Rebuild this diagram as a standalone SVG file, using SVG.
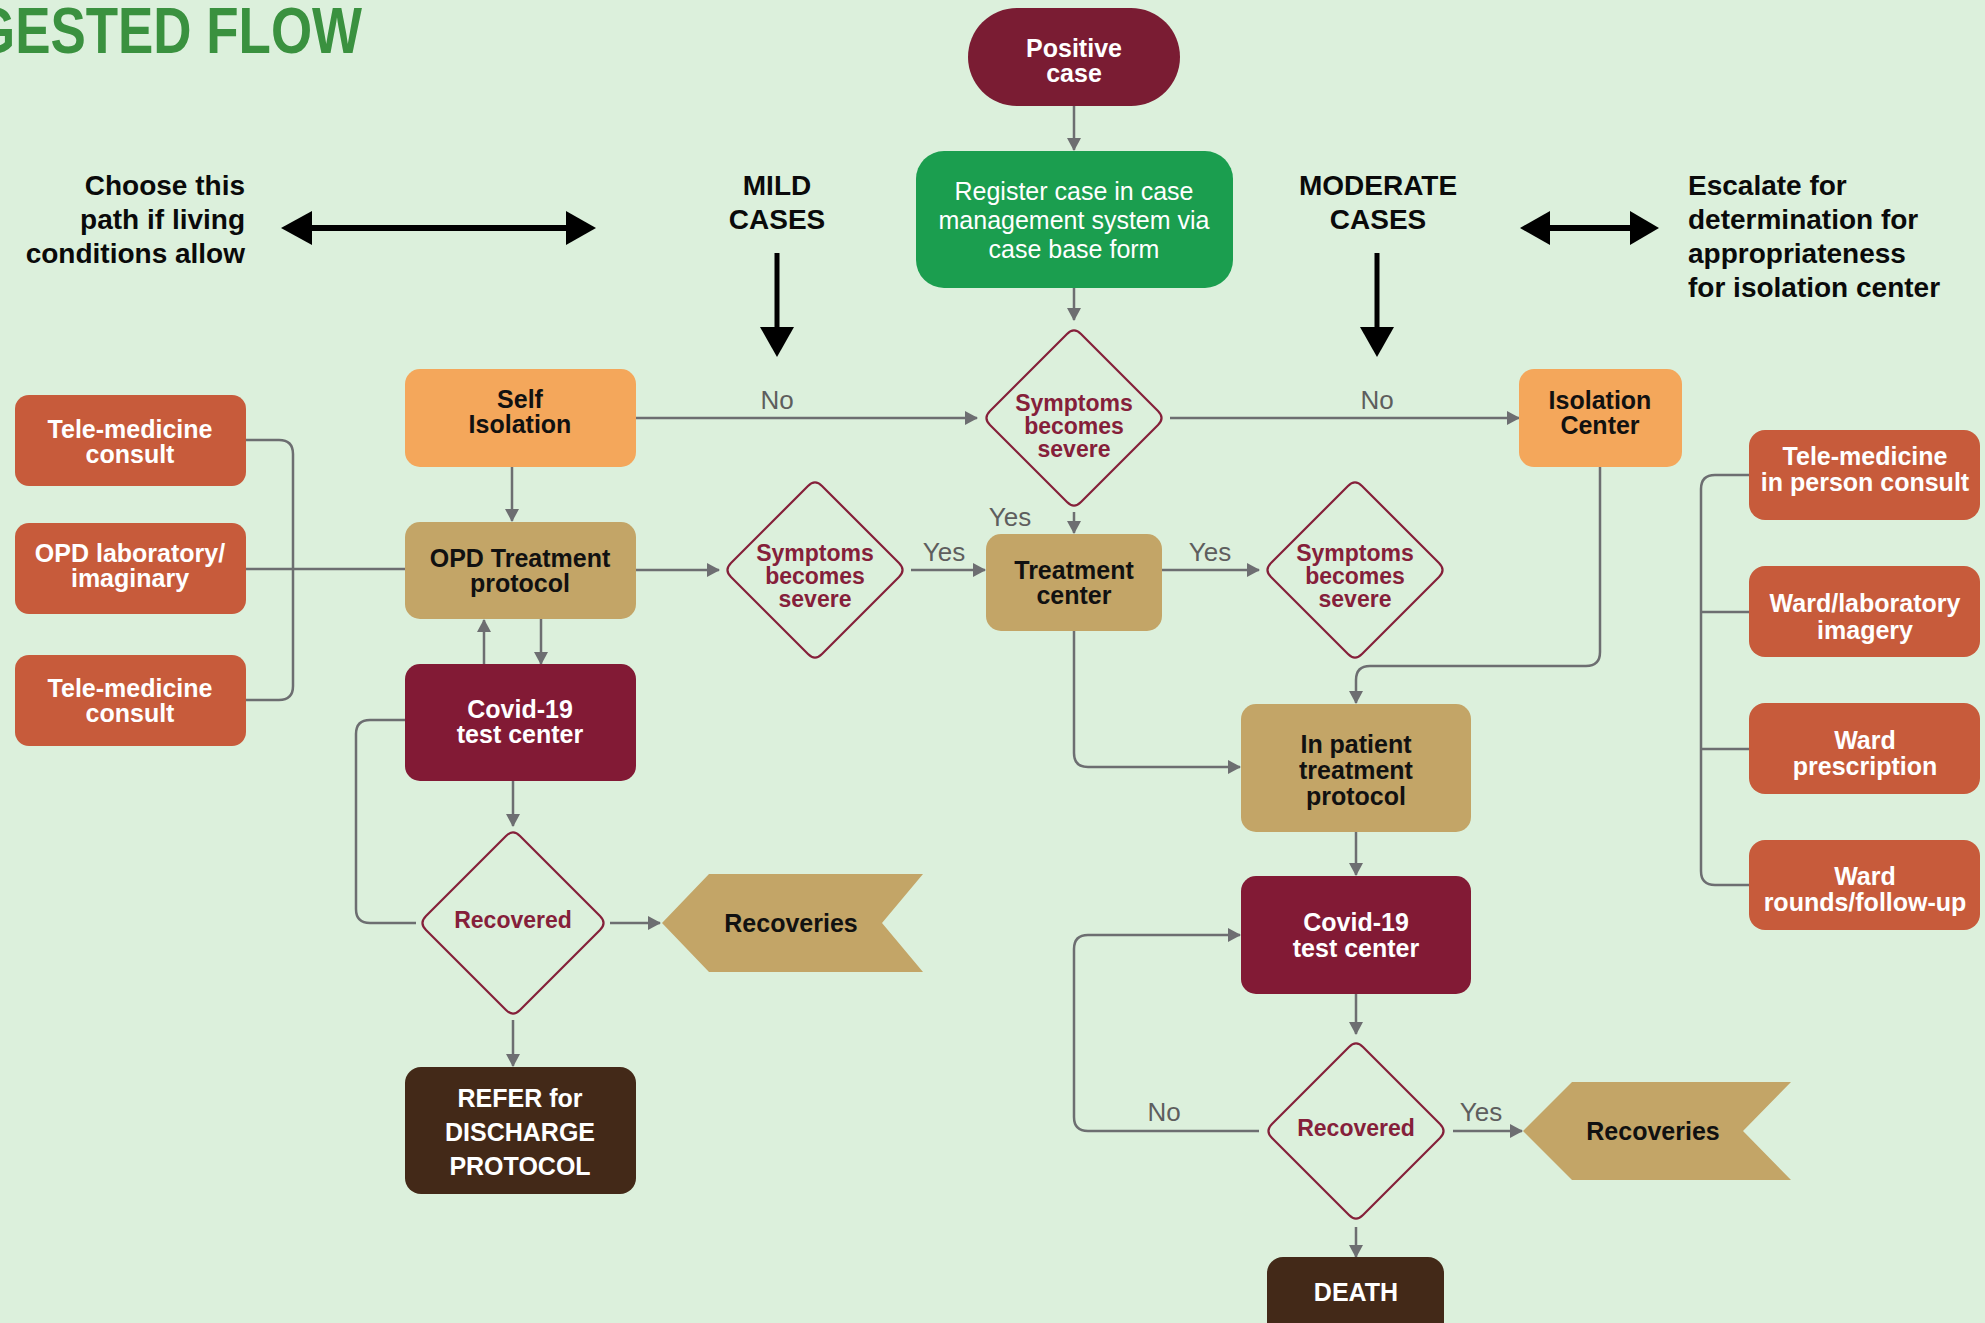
<svg xmlns="http://www.w3.org/2000/svg" width="1985" height="1323" viewBox="0 0 1985 1323">
<defs>
<style>
text{font-family:"Liberation Sans",Arial,sans-serif;}
.b{font-weight:bold;font-size:25px;text-anchor:middle;}
.w{fill:#ffffff;}
.k{fill:#111111;}
.m{fill:#85203a;font-weight:bold;font-size:23px;text-anchor:middle;}
.h{font-weight:bold;font-size:28px;fill:#0a0a0a;}
.lbl{font-size:26px;fill:#5e5e5e;text-anchor:middle;}
.c{fill:none;stroke:#6d6e71;stroke-width:2.5;}
.ca{fill:none;stroke:#6d6e71;stroke-width:2.5;marker-end:url(#ah);}
.dia{fill:none;stroke:#85203a;stroke-width:2.2;}
.or{fill:#c75b3b;}
.lo{fill:#f4a75b;}
.tan{fill:#c3a567;}
.mar{fill:#821a35;}
.br{fill:#432918;}
</style>
<marker id="ah" markerUnits="userSpaceOnUse" markerWidth="13" markerHeight="14" refX="12" refY="7" orient="auto">
<path d="M0,0 L13,7 L0,14 Z" fill="#6d6e71"/>
</marker>
<path id="dm" d="M7,-84 L84,-7 Q91,0 84,7 L7,84 Q0,91 -7,84 L-84,7 Q-91,0 -84,-7 L-7,-84 Q0,-91 7,-84 Z"/>
<path id="dmL" d="M7,-87 L87,-7 Q94,0 87,7 L7,87 Q0,94 -7,87 L-87,7 Q-94,0 -87,-7 L-7,-87 Q0,-94 7,-87 Z"/>
</defs>
<rect width="1985" height="1323" fill="#dcf0dc"/>

<text x="-26" y="53" font-size="64" font-weight="bold" fill="#3a913f" textLength="388" lengthAdjust="spacingAndGlyphs">GESTED FLOW</text>

<g id="side-labels">
<text class="h" text-anchor="end" x="245" y="195">Choose this</text>
<text class="h" text-anchor="end" x="245" y="229">path if living</text>
<text class="h" text-anchor="end" x="245" y="263">conditions allow</text>
<text class="h" text-anchor="middle" x="777" y="195">MILD</text>
<text class="h" text-anchor="middle" x="777" y="229">CASES</text>
<text class="h" text-anchor="middle" x="1378" y="195">MODERATE</text>
<text class="h" text-anchor="middle" x="1378" y="229">CASES</text>
<text class="h" x="1688" y="195">Escalate for</text>
<text class="h" x="1688" y="229">determination for</text>
<text class="h" x="1688" y="263">appropriateness</text>
<text class="h" x="1688" y="297">for isolation center</text>
</g>

<g id="black-arrows" fill="#000">
<line x1="310" y1="228" x2="568" y2="228" stroke="#000" stroke-width="6"/>
<path d="M281,228 L312,211 L312,245 Z"/>
<path d="M596,228 L566,211 L566,245 Z"/>
<line x1="1548" y1="228" x2="1632" y2="228" stroke="#000" stroke-width="6"/>
<path d="M1520,228 L1550,211 L1550,245 Z"/>
<path d="M1659,228 L1630,211 L1630,245 Z"/>
<line x1="777" y1="253" x2="777" y2="330" stroke="#000" stroke-width="5"/>
<path d="M760,327 L794,327 L777,357 Z"/>
<line x1="1377" y1="253" x2="1377" y2="330" stroke="#000" stroke-width="5"/>
<path d="M1360,327 L1394,327 L1377,357 Z"/>
</g>

<g id="connectors">
<path class="ca" d="M1074,106 L1074,150"/>
<path class="ca" d="M1074,288 L1074,320"/>
<path class="ca" d="M636,418 L977,418"/>
<path class="ca" d="M1170,418 L1519,418"/>
<path class="ca" d="M1074,512 L1074,533"/>
<path class="ca" d="M512,467 L512,521"/>
<path class="ca" d="M636,570 L719,570"/>
<path class="ca" d="M911,570 L985,570"/>
<path class="ca" d="M1162,570 L1259,570"/>
<path class="ca" d="M484,664 L484,620"/>
<path class="ca" d="M541,619 L541,664"/>
<path class="ca" d="M513,781 L513,826"/>
<path class="ca" d="M610,923 L660,923"/>
<path class="ca" d="M513,1020 L513,1066"/>
<path class="c" d="M416,923 L370,923 Q356,923 356,909 L356,734 Q356,720 370,720 L405,720"/>
<path class="c" d="M246,440 L279,440 Q293,440 293,454 L293,686 Q293,700 279,700 L246,700"/>
<path class="c" d="M246,569 L405,569"/>
<path class="ca" d="M1600,467 L1600,652 Q1600,666 1586,666 L1370,666 Q1356,666 1356,680 L1356,703"/>
<path class="ca" d="M1074,631 L1074,753 Q1074,767 1088,767 L1240,767"/>
<path class="ca" d="M1356,832 L1356,875"/>
<path class="ca" d="M1356,994 L1356,1034"/>
<path class="ca" d="M1259,1131 L1088,1131 Q1074,1131 1074,1117 L1074,949 Q1074,935 1088,935 L1240,935"/>
<path class="ca" d="M1453,1131 L1522,1131"/>
<path class="ca" d="M1356,1227 L1356,1257"/>
<path class="c" d="M1749,475 L1715,475 Q1701,475 1701,489 L1701,871 Q1701,885 1715,885 L1749,885 M1701,612 L1749,612 M1701,749 L1749,749"/>
<text class="lbl" x="777" y="409">No</text>
<text class="lbl" x="1377" y="409">No</text>
<text class="lbl" x="1010" y="526">Yes</text>
<text class="lbl" x="944" y="561">Yes</text>
<text class="lbl" x="1210" y="561">Yes</text>
<text class="lbl" x="1164" y="1121">No</text>
<text class="lbl" x="1481" y="1121">Yes</text>
</g>

<g id="positive-case">
<rect x="968" y="8" width="212" height="98" rx="49" fill="#7a1c33"/>
<text class="b w" x="1074" y="57">Positive</text>
<text class="b w" x="1074" y="82">case</text>
</g>

<g id="register">
<rect x="916" y="151" width="317" height="137" rx="28" fill="#1b9e4f"/>
<text class="w" font-size="25" text-anchor="middle" x="1074" y="200">Register case in case</text>
<text class="w" font-size="25" text-anchor="middle" x="1074" y="229">management system via</text>
<text class="w" font-size="25" text-anchor="middle" x="1074" y="258">case base form</text>
</g>

<g id="symptoms-center">
<use href="#dm" class="dia" transform="translate(1074,418)"/>
<text class="m" x="1074" y="411">Symptoms</text>
<text class="m" x="1074" y="434">becomes</text>
<text class="m" x="1074" y="457">severe</text>
</g>

<g id="symptoms-mild">
<use href="#dm" class="dia" transform="translate(815,570)"/>
<text class="m" x="815" y="561">Symptoms</text>
<text class="m" x="815" y="584">becomes</text>
<text class="m" x="815" y="607">severe</text>
</g>

<g id="symptoms-moderate">
<use href="#dm" class="dia" transform="translate(1355,570)"/>
<text class="m" x="1355" y="561">Symptoms</text>
<text class="m" x="1355" y="584">becomes</text>
<text class="m" x="1355" y="607">severe</text>
</g>

<g id="tele-medicine-1">
<rect class="or" x="15" y="395" width="231" height="91" rx="14"/>
<text class="b w" x="130" y="438">Tele-medicine</text>
<text class="b w" x="130" y="463">consult</text>
</g>
<g id="opd-laboratory">
<rect class="or" x="15" y="523" width="231" height="91" rx="14"/>
<text class="b w" x="130" y="562">OPD laboratory/</text>
<text class="b w" x="130" y="587">imaginary</text>
</g>
<g id="tele-medicine-2">
<rect class="or" x="15" y="655" width="231" height="91" rx="14"/>
<text class="b w" x="130" y="697">Tele-medicine</text>
<text class="b w" x="130" y="722">consult</text>
</g>

<g id="self-isolation">
<rect class="lo" x="405" y="369" width="231" height="98" rx="15"/>
<text class="b k" x="520" y="408">Self</text>
<text class="b k" x="520" y="433">Isolation</text>
</g>
<g id="opd-treatment">
<rect class="tan" x="405" y="522" width="231" height="97" rx="15"/>
<text class="b k" x="520" y="567">OPD Treatment</text>
<text class="b k" x="520" y="592">protocol</text>
</g>
<g id="covid-test-1">
<rect class="mar" x="405" y="664" width="231" height="117" rx="15"/>
<text class="b w" x="520" y="718">Covid-19</text>
<text class="b w" x="520" y="743">test center</text>
</g>
<g id="recovered-1">
<use href="#dmL" class="dia" transform="translate(513,923)"/>
<text class="m" x="513" y="928">Recovered</text>
</g>
<g id="recoveries-1">
<path class="tan" d="M662,923 L709,874 L923,874 L882,923 L923,972 L709,972 Z"/>
<text class="b k" x="791" y="932">Recoveries</text>
</g>
<g id="refer-discharge">
<rect class="br" x="405" y="1067" width="231" height="127" rx="16"/>
<text class="b w" x="520" y="1107">REFER for</text>
<text class="b w" x="520" y="1141">DISCHARGE</text>
<text class="b w" x="520" y="1175">PROTOCOL</text>
</g>

<g id="treatment-center">
<rect class="tan" x="986" y="534" width="176" height="97" rx="15"/>
<text class="b k" x="1074" y="579">Treatment</text>
<text class="b k" x="1074" y="604">center</text>
</g>
<g id="isolation-center">
<rect class="lo" x="1519" y="369" width="163" height="98" rx="15"/>
<text class="b k" x="1600" y="409">Isolation</text>
<text class="b k" x="1600" y="434">Center</text>
</g>
<g id="in-patient">
<rect class="tan" x="1241" y="704" width="230" height="128" rx="15"/>
<text class="b k" x="1356" y="753">In patient</text>
<text class="b k" x="1356" y="779">treatment</text>
<text class="b k" x="1356" y="805">protocol</text>
</g>
<g id="covid-test-2">
<rect class="mar" x="1241" y="876" width="230" height="118" rx="15"/>
<text class="b w" x="1356" y="931">Covid-19</text>
<text class="b w" x="1356" y="957">test center</text>
</g>
<g id="recovered-2">
<use href="#dm" class="dia" transform="translate(1356,1131)"/>
<text class="m" x="1356" y="1136">Recovered</text>
</g>
<g id="recoveries-2">
<path class="tan" d="M1523,1131 L1572,1082 L1791,1082 L1743,1131 L1791,1180 L1572,1180 Z"/>
<text class="b k" x="1653" y="1140">Recoveries</text>
</g>
<g id="death">
<rect class="br" x="1267" y="1257" width="177" height="90" rx="16"/>
<text class="b w" x="1356" y="1301">DEATH</text>
</g>

<g id="tele-in-person">
<rect class="or" x="1749" y="430" width="231" height="90" rx="16"/>
<text class="b w" x="1865" y="465">Tele-medicine</text>
<text class="b w" x="1865" y="491">in person consult</text>
</g>
<g id="ward-laboratory">
<rect class="or" x="1749" y="566" width="231" height="91" rx="16"/>
<text class="b w" x="1865" y="612">Ward/laboratory</text>
<text class="b w" x="1865" y="639">imagery</text>
</g>
<g id="ward-prescription">
<rect class="or" x="1749" y="703" width="231" height="91" rx="16"/>
<text class="b w" x="1865" y="749">Ward</text>
<text class="b w" x="1865" y="775">prescription</text>
</g>
<g id="ward-rounds">
<rect class="or" x="1749" y="840" width="231" height="90" rx="16"/>
<text class="b w" x="1865" y="885">Ward</text>
<text class="b w" x="1865" y="911">rounds/follow-up</text>
</g>
</svg>
